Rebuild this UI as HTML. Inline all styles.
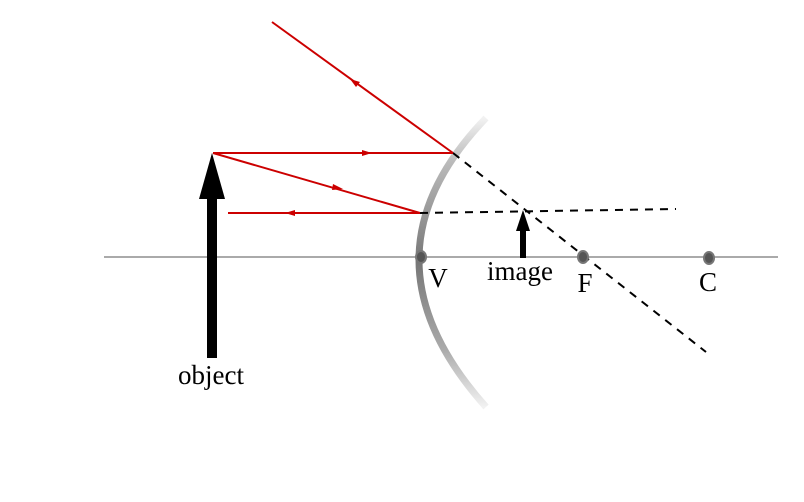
<!DOCTYPE html>
<html><head><meta charset="utf-8"><style>html,body{margin:0;padding:0;background:#fff}svg{display:block}</style></head>
<body>
<svg width="804" height="502" viewBox="0 0 804 502" xmlns="http://www.w3.org/2000/svg">
<defs>
<linearGradient id="g" x1="0" y1="118" x2="0" y2="407" gradientUnits="userSpaceOnUse">
<stop offset="0" stop-color="#f2f2f2"/>
<stop offset="0.15" stop-color="#bbb"/>
<stop offset="0.5" stop-color="#777"/>
<stop offset="0.8" stop-color="#aaa"/>
<stop offset="1" stop-color="#f2f2f2"/>
</linearGradient>
</defs>
<line x1="104" y1="257" x2="778" y2="257" stroke="#777" stroke-width="1.2"/>
<path d="M486,118 Q352,257 486,407" fill="none" stroke="url(#g)" stroke-width="7"/>
<g stroke="#000" stroke-width="2" stroke-dasharray="8,7" fill="none">
<line x1="453" y1="153" x2="706" y2="352"/>
<line x1="420" y1="213" x2="676" y2="209"/>
</g>
<g stroke="#c00" stroke-width="2" fill="none">
<line x1="272" y1="22" x2="453" y2="153"/>
<line x1="213" y1="153" x2="453" y2="153"/>
<line x1="213" y1="153" x2="420" y2="213"/>
<line x1="420" y1="213" x2="228" y2="213"/>
</g>
<g fill="#c00">
<polygon points="350,79 360,82 356,87"/>
<polygon points="372,153 362,150 362,156"/>
<polygon points="343,189 333,184 332,190"/>
<polygon points="285,213 295,210 295,216"/>
</g>
<rect x="207" y="195" width="10" height="163" fill="#000"/>
<polygon points="212,153 199,199 225,199" fill="#000"/>
<rect x="520" y="228" width="6" height="30" fill="#000"/>
<polygon points="523,210 516,231 530,231" fill="#000"/>
<g fill="#555" stroke="#777" stroke-width="2">
<ellipse cx="421" cy="257" rx="5" ry="6"/>
<ellipse cx="583" cy="257" rx="5" ry="6"/>
<ellipse cx="709" cy="258" rx="5" ry="6"/>
</g>
<g font-family="Liberation Serif, serif" font-size="27" fill="#000" text-anchor="middle">
<text x="438" y="287">V</text>
<text x="520" y="280">image</text>
<text x="585" y="292">F</text>
<text x="708" y="291">C</text>
<text x="211" y="384">object</text>
</g>
</svg>
</body></html>
